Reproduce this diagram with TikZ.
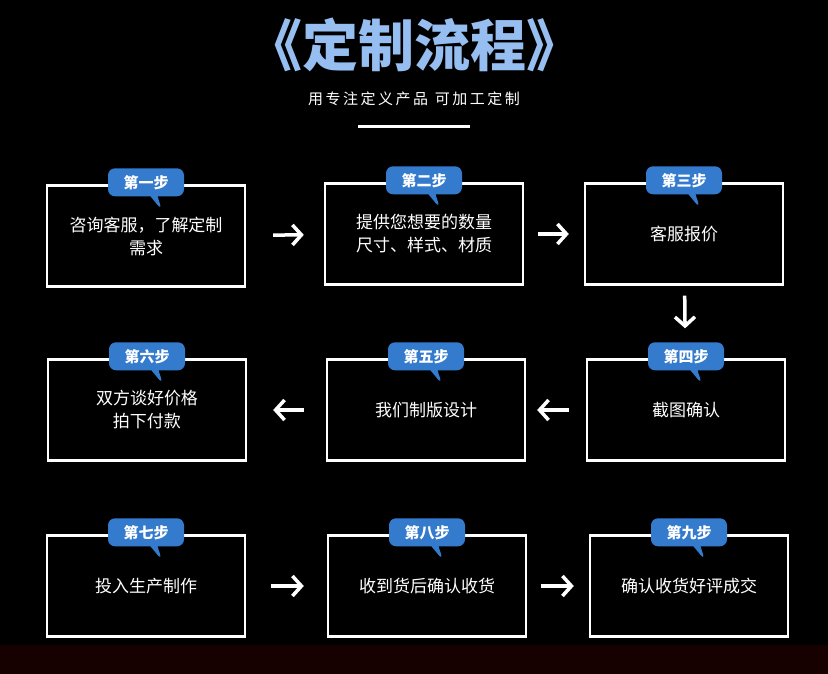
\documentclass[tikz,border=0pt]{standalone}
\usepackage{fontspec}
\setmainfont{Noto Sans CJK SC}
\usetikzlibrary{positioning,arrows.meta,shapes.callouts}
\definecolor{badgeblue}{RGB}{52,122,205}
\definecolor{titleblue}{RGB}{150,190,240}
\tikzset{
  stepbox/.style={draw=white, line width=2.4pt, minimum width=198pt, minimum height=101pt,
    text=white, align=center, font=\fontsize{17}{23}\selectfont, text width=185pt},
  badge/.style={rectangle callout, rounded corners=7pt, fill=badgeblue, text=white,
    minimum width=76pt, minimum height=28pt, inner sep=0pt,
    callout relative pointer={(8pt,-14pt)}, font=\fontsize{15}{15}\selectfont\bfseries},
  flow/.style={draw=white, line width=3.5pt, -{Straight Barb[length=9pt,width=20pt,line width=3.5pt]}}
}
\begin{document}
\begin{tikzpicture}[x=1pt,y=1pt,yscale=-1]
\fill[black] (0,0) rectangle (828,674);
\fill[red!30!black, opacity=0.3] (0,645) rectangle (828,674);
\useasboundingbox (0,0) rectangle (828,674);

% title
\node (title) at (414,45) {\fontsize{56}{56}\selectfont\bfseries\color{titleblue}《定制流程》};
\node (sub) at (414,99) {\color{white}\fontsize{15}{15}\selectfont 用\,专\,注\,定\,义\,产\,品\ \ 可\,加\,工\,定\,制};
\draw[white, line width=3pt] (358,127) -- (470,127);

% boxes
\node[stepbox] (s1) at (146,236) {咨询客服，了解定制\\需求};
\node[stepbox] (s2) at (424,234) {提供您想要的数量\\尺寸、样式、材质};
\node[stepbox] (s3) at (684,234) {客服报价};
\node[stepbox] (s4) at (686,410) {截图确认};
\node[stepbox] (s5) at (426,410) {我们制版设计};
\node[stepbox] (s6) at (147,410) {双方谈好价格\\拍下付款};
\node[stepbox] (s7) at (146,586) {投入生产制作};
\node[stepbox] (s8) at (427,586) {收到货后确认收货};
\node[stepbox] (s9) at (689,586) {确认收货好评成交};

% badges
\foreach \s/\t in {s1/一,s2/二,s3/三,s4/四,s5/五,s6/六,s7/七,s8/八,s9/九}
  \node[badge] (b\s) at ([yshift=-2pt]\s.north) {第\t 步};

% arrows
\draw[flow, shorten <=27pt, shorten >=20pt] (s1) -- (s2);
\draw[flow, shorten <=14pt, shorten >=15pt] (s2) -- (s3);
\draw[flow, shorten <=10pt, shorten >=30pt] (s3) -- (s4);
\draw[flow, shorten <=17pt, shorten >=11pt] (s4) -- (s5);
\draw[flow, shorten <=22pt, shorten >=26pt] (s5) -- (s6);
\draw[flow, shorten <=25pt, shorten >=23pt] (s7) -- (s8);
\draw[flow, shorten <=14pt, shorten >=15pt] (s8) -- (s9);
\end{tikzpicture}
\end{document}
